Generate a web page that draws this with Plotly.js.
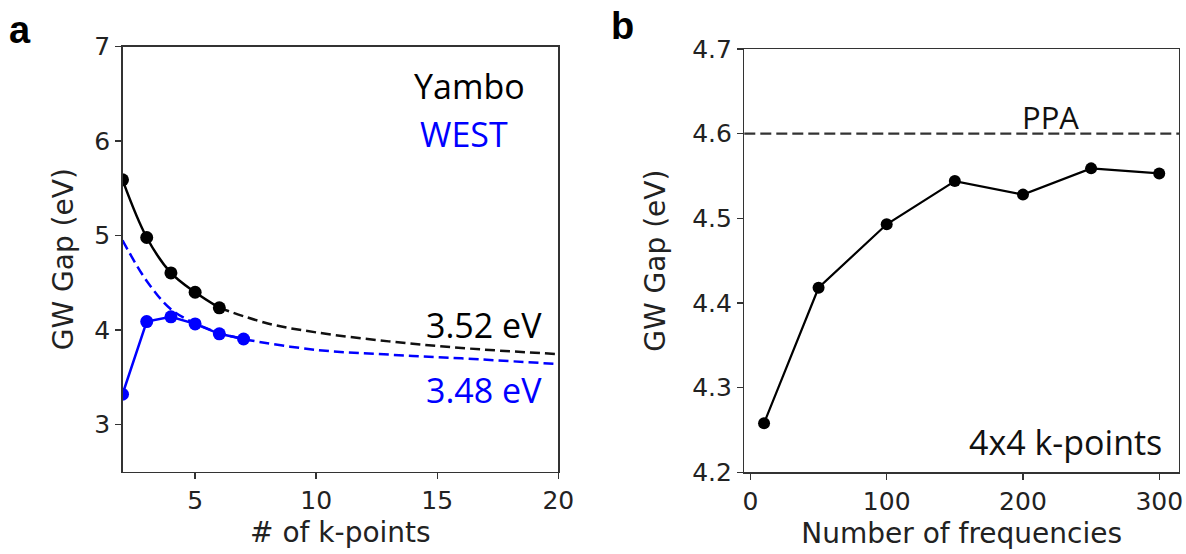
<!DOCTYPE html>
<html>
<head>
<meta charset="utf-8">
<script src="https://cdn.plot.ly/plotly-3.0.1.min.js"></script>
<style>
  html, body { margin: 0; padding: 0; background: #fff; }
  #chart { width: 1186px; height: 554px; }
</style>
</head>
<body>
<div id="chart"></div>
<script>
// ---- Panel a: GW gap vs number of k-points ----
const kPoints = [2, 3, 4, 5, 6];
const yamboGap = [5.59, 4.98, 4.605, 4.40, 4.235];
const kPointsWest = [2, 3, 4, 5, 6, 7];
const westGap = [3.32, 4.09, 4.14, 4.065, 3.96, 3.905];
const yamboFitK = [6, 8, 10, 13, 16, 20];
const yamboFitGap = [4.235, 4.07, 3.975, 3.88, 3.81, 3.745];
const westFitK = [2, 3, 4, 5, 6, 7, 10, 13, 16, 20];
const westFitGap = [4.95, 4.52, 4.22, 4.07, 3.97, 3.905, 3.79, 3.74, 3.70, 3.64];
const yamboLabel = "3.52 eV";
const westLabel = "3.48 eV";

// ---- Panel b: GW gap vs number of frequencies ----
const frequencies = [10, 50, 100, 150, 200, 250, 300];
const freqGap = [4.258, 4.418, 4.493, 4.544, 4.528, 4.559, 4.553];
const ppaGap = 4.6;

const W = 1186, H = 554;
const px = x => x / W;
const py = y => 1 - y / H;

const tickFont = {family: "DejaVu Sans", size: 25, color: "#222"};
const titleFont = {family: "DejaVu Sans", size: 28, color: "#222"};
const annFont = (c, s) => ({family: "Open Sans", size: s || 34, color: c});

const traces = [
  {x: yamboFitK, y: yamboFitGap, xaxis: "x", yaxis: "y", mode: "lines",
   line: {color: "#111", width: 2.5, dash: "10px,5px", shape: "spline"}, hoverinfo: "skip"},
  {x: westFitK, y: westFitGap, xaxis: "x", yaxis: "y", mode: "lines",
   line: {color: "#0000ff", width: 2.5, dash: "10px,5px", shape: "spline"}, hoverinfo: "skip"},
  {x: kPoints, y: yamboGap, xaxis: "x", yaxis: "y", mode: "lines+markers", name: "Yambo",
   line: {color: "#000", width: 2.5, shape: "spline"}, marker: {color: "#000", size: 13}},
  {x: kPointsWest, y: westGap, xaxis: "x", yaxis: "y", mode: "lines+markers", name: "WEST",
   line: {color: "#0000ff", width: 2.5}, marker: {color: "#0000ff", size: 13}},
  {x: frequencies, y: freqGap, xaxis: "x2", yaxis: "y2", mode: "lines+markers",
   line: {color: "#000", width: 2.2}, marker: {color: "#000", size: 12}}
];

const axisCommon = {
  showline: true, linecolor: "#333", linewidth: 1.4, mirror: true,
  ticks: "outside", ticklen: 6, tickwidth: 1.4, tickcolor: "#333",
  showgrid: false, zeroline: false, tickfont: tickFont, fixedrange: true
};

const ann = (text, x, y, font, xanchor) => ({
  text, xref: "paper", yref: "paper", x: px(x), y: py(y),
  xanchor: xanchor || "center", yanchor: "middle", showarrow: false, font
});

const layout = {
  width: W, height: H,
  margin: {l: 0, r: 0, t: 0, b: 0},
  paper_bgcolor: "#fff", plot_bgcolor: "#fff",
  showlegend: false,
  xaxis: Object.assign({}, axisCommon, {
    domain: [px(122.5), px(558.3)], range: [2, 20], anchor: "y",
    tickvals: [5, 10, 15, 20],
    title: {text: "# of k-points", font: titleFont, standoff: 8}
  }),
  yaxis: Object.assign({}, axisCommon, {
    domain: [py(471.7), py(46.7)], range: [2.5, 7], anchor: "x",
    tickvals: [3, 4, 5, 6, 7],
    title: {text: "GW Gap (eV)", font: titleFont, standoff: 12}
  }),
  xaxis2: Object.assign({}, axisCommon, {
    domain: [px(744.3), px(1179)], range: [-4.5, 314.5], anchor: "y2",
    tickvals: [0, 100, 200, 300],
    title: {text: "Number of frequencies", font: titleFont, standoff: 8}
  }),
  yaxis2: Object.assign({}, axisCommon, {
    domain: [py(472.3), py(49)], range: [4.2, 4.7], anchor: "x2",
    tickvals: [4.2, 4.3, 4.4, 4.5, 4.6, 4.7], tickformat: ".1f",
    title: {text: "GW Gap (eV)", font: titleFont, standoff: 18}
  }),
  shapes: [
    {type: "line", xref: "x2 domain", yref: "y2", x0: 0, x1: 1, y0: ppaGap, y1: ppaGap,
     line: {color: "#333", width: 2.4, dash: "11px,5px"}}
  ],
  annotations: [
    ann("<b>a</b>", 20, 30, {family: "Liberation Sans", size: 38, color: "#000"}),
    ann("<b>b</b>", 622, 26, {family: "Liberation Sans", size: 38, color: "#000"}),
    ann("Yambo", 527, 86, annFont("#000"), "right"),
    ann("WEST", 418, 134, annFont("#0000ff"), "left"),
    ann(yamboLabel, 544, 325, annFont("#000"), "right"),
    ann(westLabel, 544, 390, annFont("#0000ff"), "right"),
    ann("PPA", 1050, 117, annFont("#111", 31)),
    ann("4x4 k-points", 1164, 442, annFont("#111", 34), "right")
  ]
};

Plotly.newPlot("chart", traces, layout, {displayModeBar: false, staticPlot: true});
</script>
</body>
</html>
